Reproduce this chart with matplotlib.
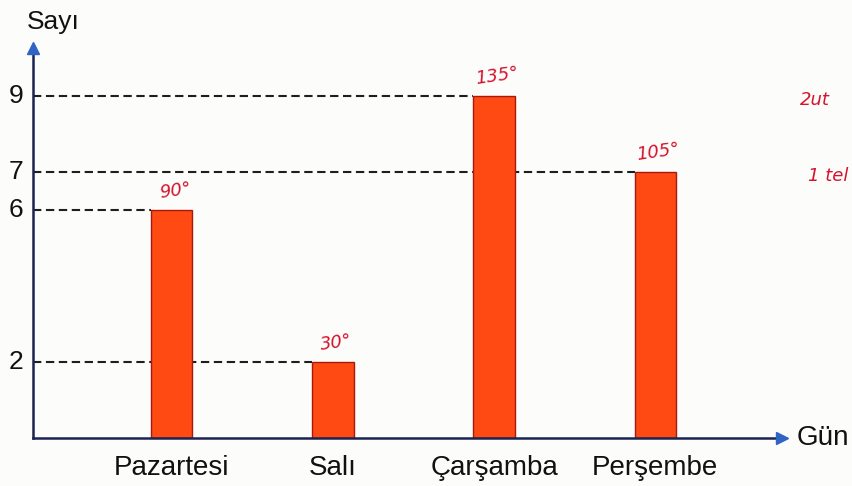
import matplotlib.pyplot as plt

# chart data
days = ["Pazartesi", "Salı", "Çarşamba", "Perşembe"]
counts = [6, 2, 9, 7]
angle_notes = ["90°", "30°", "135°", "105°"]
side_notes = ["2ut", "1 tel"]
side_note_levels = [9, 7]

W, H = 853, 486
fig = plt.figure(figsize=(W / 100, H / 100), dpi=100)
fig.patch.set_facecolor("#fcfcfb")

# axes placed so that value 0 sits on the drawn x axis
ax = fig.add_axes([33 / W, (H - 438) / H, (785 - 33) / W, (438 - 45) / H])
ax.set_facecolor("none")
xmin, xmax = -0.863, 3.807
ymin, ymax = 0, 10.34
ax.set_xlim(xmin, xmax)
ax.set_ylim(ymin, ymax)
ax.axis("off")

xs = list(range(len(days)))
bw = 0.255
bar_color = "#ff4a14"
line_color = "#1b2350"
arrow_color = "#2f63c4"
ink = "#d4142c"

# dashed guide lines from the y axis to the left side of each bar
for x, v in zip(xs, counts):
    ax.hlines(v, xmin, x - bw / 2, colors="#1e1e1e", linestyles=(0, (4, 2.2)),
              linewidth=1.5, zorder=1)

ax.bar(xs, counts, width=bw, color=bar_color, edgecolor="#a8190c",
       linewidth=1.0, zorder=2)

# axes with arrow heads
ax.plot([xmin, xmax - 0.03], [0, 0], color=line_color, lw=1.8, zorder=3,
        clip_on=False)
ax.plot([xmin, xmin], [0, ymax - 0.15], color=line_color, lw=1.8, zorder=3,
        clip_on=False)
ax.plot([xmax - 0.02], [0], marker=">", color=arrow_color, ms=9, zorder=4,
        clip_on=False)
ax.plot([xmin], [ymax - 0.08], marker="^", color=arrow_color, ms=9, zorder=4,
        clip_on=False)

font = "Liberation Sans"
for v in sorted(set(counts)):
    ax.text(xmin - 0.06, v, str(v), ha="right", va="center", fontsize=19,
            family=font, color="#111111")
ax.text(xmin - 0.04, ymax + 0.28, "Sayı", ha="left", va="bottom", fontsize=19,
        family=font, color="#111111", clip_on=False)
ax.text(xmax + 0.07, 0, "Gün", ha="left", va="center", fontsize=20,
        family=font, color="#111111", clip_on=False)
for x, d in zip(xs, days):
    ax.text(x, -0.78, d, ha="center", va="center", fontsize=20,
            family=font, color="#111111", clip_on=False)

# handwritten notes
for x, v, n in zip(xs, counts, angle_notes):
    ax.text(x + 0.02, v + 0.22, n, ha="center", va="bottom", fontsize=13,
            family="DejaVu Sans", color=ink, rotation=8, style="italic")
for lv, n in zip(side_note_levels, side_notes):
    ax.text(3.90 if lv == 9 else 3.95, lv - 0.1, n, ha="left", va="center",
            fontsize=13, family="DejaVu Sans", color=ink, style="italic",
            clip_on=False)

fig.savefig("out.png", dpi=100, facecolor=fig.get_facecolor())
